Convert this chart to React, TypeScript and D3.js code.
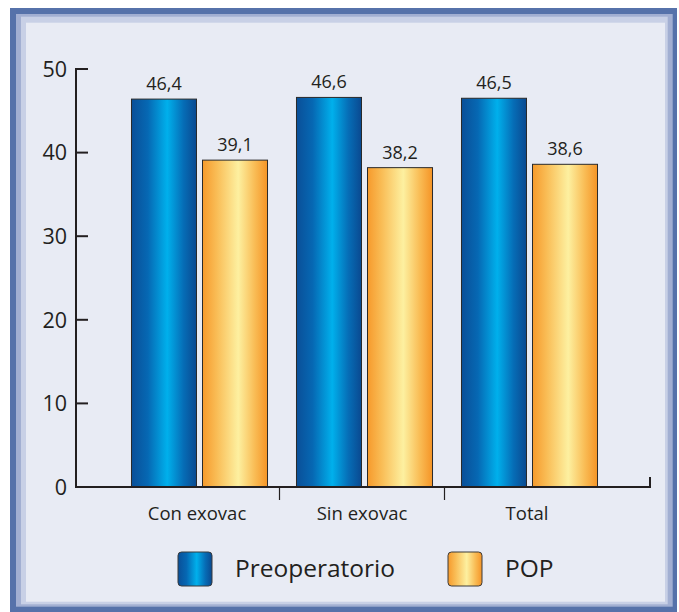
import React from "react";
import * as d3 from "d3";

// Chart data
const categories = ["Con exovac", "Sin exovac", "Total"];
const seriesNames = ["Preoperatorio", "POP"];
const preoperatorio = [46.4, 46.6, 46.5];
const pop = [39.1, 38.2, 38.6];
const yTicks = [0, 10, 20, 30, 40, 50];

const W = 679;
const H = 612;
const FONT = "'Open Sans', 'Noto Sans', sans-serif";
const INK = "#231f20";

const fmt = (v: number) => v.toFixed(1).replace(".", ",");

export default function App() {
  const y = d3.scaleLinear().domain([0, 50]).range([487, 69]);
  const x0 = d3.scaleBand<string>().domain(categories).range([117, 612]).padding(0);
  const x1 = d3
    .scaleBand<string>()
    .domain(seriesNames)
    .range([0, x0.bandwidth()])
    .paddingInner(0.0845)
    .paddingOuter(0.204);

  const rows = categories.map((c, i) => ({
    cat: c,
    values: [
      { key: seriesNames[0], v: preoperatorio[i] },
      { key: seriesNames[1], v: pop[i] },
    ],
  }));

  const fillFor = (key: string) => (key === seriesNames[0] ? "url(#gBlue)" : "url(#gOrange)");
  const axisLeft = 76;
  const axisRight = 650;
  const y0 = y(0);

  return (
    <svg
      width={W}
      height={H}
      viewBox={`0 0 ${W} ${H}`}
      style={{ position: "absolute", left: 0, top: 0, display: "block" }}
    >
      <defs>
        <linearGradient id="gBlue" x1="0" y1="0" x2="1" y2="0">
          <stop offset="0" stopColor="#0a4f98" />
          <stop offset="0.25" stopColor="#0668b3" />
          <stop offset="0.55" stopColor="#00b0ec" />
          <stop offset="0.8" stopColor="#066db6" />
          <stop offset="1" stopColor="#0a4990" />
        </linearGradient>
        <linearGradient id="gOrange" x1="0" y1="0" x2="1" y2="0">
          <stop offset="0" stopColor="#f69a2c" />
          <stop offset="0.22" stopColor="#f9bd56" />
          <stop offset="0.55" stopColor="#fdf0a0" />
          <stop offset="0.8" stopColor="#f9bd56" />
          <stop offset="1" stopColor="#f59426" />
        </linearGradient>
      </defs>

      <rect x={0} y={0} width={W} height={H} fill="#ffffff" />
      {/* layered frame */}
      <rect x={10} y={8} width={667} height={604} fill="#5672aa" />
      <rect x={16} y={14} width={656.7} height={592.7} fill="#a2afd2" />
      <rect x={21} y={16.7} width={646.7} height={587.6} fill="#c8d0e6" />
      <rect x={26} y={22.7} width={639} height={579} fill="#e8ebf4" />

      {/* bars */}
      {rows.map((r) => (
        <g key={r.cat} transform={`translate(${x0(r.cat)},0)`}>
          {r.values.map((d) => (
            <g key={d.key}>
              <rect
                x={x1(d.key)}
                y={y(d.v)}
                width={x1.bandwidth()}
                height={y0 - y(d.v)}
                fill={fillFor(d.key)}
                stroke="#2a2a2a"
                strokeWidth={1}
              />
              <text
                x={(x1(d.key) as number) + x1.bandwidth() / 2}
                y={y(d.v) - 9}
                textAnchor="middle"
                fontFamily={FONT}
                fontSize={18}
                fill={INK}
              >
                {fmt(d.v)}
              </text>
            </g>
          ))}
        </g>
      ))}

      {/* y axis */}
      <line x1={axisLeft} x2={axisLeft} y1={y(50) - 1} y2={y0} stroke={INK} strokeWidth={2} />
      {yTicks.map((t) => (
        <g key={t}>
          <line x1={axisLeft} x2={axisLeft + 12} y1={y(t)} y2={y(t)} stroke={INK} strokeWidth={2} />
          <text
            x={67}
            y={y(t)}
            dy="0.36em"
            textAnchor="end"
            fontFamily={FONT}
            fontSize={21.5}
            fill={INK}
          >
            {t}
          </text>
        </g>
      ))}

      {/* x axis */}
      <line x1={axisLeft - 1} x2={axisRight} y1={y0} y2={y0} stroke={INK} strokeWidth={2} />
      <line x1={axisRight} x2={axisRight} y1={y0 + 1} y2={y0 - 10} stroke={INK} strokeWidth={2} />
      {categories.slice(1).map((c) => (
        <line
          key={c}
          x1={(x0(c) as number) - 2.5}
          x2={(x0(c) as number) - 2.5}
          y1={y0}
          y2={y0 + 13}
          stroke={INK}
          strokeWidth={1.2}
        />
      ))}
      {categories.map((c) => (
        <text
          key={c}
          x={(x0(c) as number) + x0.bandwidth() / 2 - 2.5}
          y={520}
          textAnchor="middle"
          fontFamily={FONT}
          fontSize={18.5}
          fill={INK}
        >
          {c}
        </text>
      ))}

      {/* legend */}
      {seriesNames.map((s, i) => {
        const lx = i === 0 ? 178 : 448;
        return (
          <g key={s}>
            <rect
              x={lx}
              y={552}
              width={34}
              height={34}
              rx={3.5}
              fill={fillFor(s)}
              stroke="#3a3a3a"
              strokeWidth={1}
            />
            <text x={lx + 57} y={577} fontFamily={FONT} fontSize={24.5} fill={INK}>
              {s}
            </text>
          </g>
        );
      })}
    </svg>
  );
}
